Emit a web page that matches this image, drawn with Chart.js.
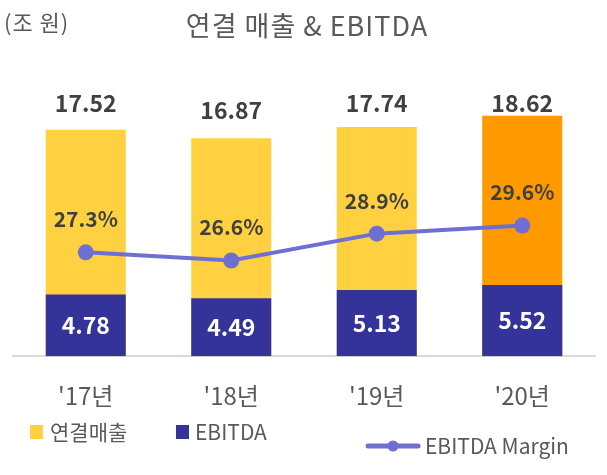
<!DOCTYPE html>
<html>
<head>
<meta charset="utf-8">
<script src="https://cdn.jsdelivr.net/npm/chart.js@4"></script>
<style>
  html, body { margin: 0; padding: 0; background: #fff; }
  #wrap { width: 607px; height: 475px; }
</style>
</head>
<body>
<div id="wrap"><canvas id="salesChart" width="607" height="475"></canvas></div>
<script>
var years = ["'17년", "'18년", "'19년", "'20년"];
var sales = [17.52, 16.87, 17.74, 18.62];
var ebitda = [4.78, 4.49, 5.13, 5.52];
var margin = [27.3, 26.6, 28.9, 29.6];

var fontName = "'Noto Sans CJK KR', 'Noto Sans', sans-serif";
var sales_colors = ["#FFD040", "#FFD040", "#FFD040", "#FF9900"];

var labelPlugin = {
    id: 'labelPlugin',
    afterDatasetsDraw: function (chart) {
        var ctx = chart.ctx;
        var top = chart.chartArea.top;
        ctx.save();
        ctx.textAlign = 'center';
        ctx.textBaseline = 'middle';

        // totals above the bars
        ctx.fillStyle = '#404040';
        ctx.font = 'bold 23px ' + fontName;
        chart.getDatasetMeta(0).data.forEach(function (bar, i) {
            ctx.fillText(sales[i].toFixed(2), bar.x, Math.max(bar.y - 28, top + 31));
        });

        // ebitda inside the navy bars
        ctx.fillStyle = '#ffffff';
        chart.getDatasetMeta(1).data.forEach(function (bar, i) {
            ctx.fillText(ebitda[i].toFixed(2), bar.x, (bar.y + bar.base) / 2);
        });

        // margin labels
        ctx.fillStyle = '#404040';
        ctx.font = 'bold 21px ' + fontName;
        chart.getDatasetMeta(2).data.forEach(function (pt, i) {
            ctx.fillText(margin[i].toFixed(1) + '%', pt.x, pt.y - 33);
        });
        ctx.restore();
    },
    afterDraw: function (chart) {
        var ctx = chart.ctx;
        ctx.save();
        ctx.textBaseline = 'middle';
        ctx.fillStyle = '#595959';

        ctx.font = '22px ' + fontName;
        ctx.letterSpacing = '1px';
        ctx.textAlign = 'left';
        ctx.fillText('(조 원)', 4, 23);

        ctx.font = '27px ' + fontName;
        ctx.textAlign = 'center';
        ctx.fillText('연결 매출 & EBITDA', 307, 26);
        ctx.letterSpacing = '0px';

        // legend
        ctx.textAlign = 'left';
        ctx.font = '21px ' + fontName;
        ctx.fillStyle = '#FFD040';
        ctx.fillRect(30, 425, 13, 14);
        ctx.fillStyle = '#595959';
        ctx.fillText('연결매출', 50, 432);

        ctx.fillStyle = '#333399';
        ctx.fillRect(176, 425, 13, 14);
        ctx.fillStyle = '#595959';
        ctx.fillText('EBITDA', 195, 432);

        ctx.strokeStyle = '#6F6FD3';
        ctx.lineWidth = 5;
        ctx.lineCap = 'round';
        ctx.beginPath();
        ctx.moveTo(368, 446);
        ctx.lineTo(418, 446);
        ctx.stroke();
        ctx.fillStyle = '#6F6FD3';
        ctx.beginPath();
        ctx.arc(393, 446, 5.5, 0, Math.PI * 2);
        ctx.fill();
        ctx.fillStyle = '#595959';
        ctx.fillText('EBITDA Margin', 425, 446);
        ctx.restore();
    }
};

var ctx = document.getElementById("salesChart");

var salesChart = new Chart(ctx, {
    type: 'bar',
    data: {
        labels: years,
        datasets: [{
            label: '연결매출',
            data: sales,
            backgroundColor: sales_colors,
            grouped: false,
            order: 3,
            yAxisID: 'y'
        }, {
            label: 'EBITDA',
            data: ebitda,
            backgroundColor: '#333399',
            grouped: false,
            order: 2,
            yAxisID: 'y'
        }, {
            type: 'line',
            label: 'EBITDA Margin',
            data: margin,
            borderColor: '#6F6FD3',
            backgroundColor: '#6F6FD3',
            borderWidth: 4,
            pointRadius: 6,
            pointHoverRadius: 6,
            order: 1,
            yAxisID: 'y2'
        }]
    },
    options: {
        responsive: false,
        animation: false,
        devicePixelRatio: 1,
        layout: {
            padding: { top: 72, left: 13, right: 12, bottom: 40 }
        },
        datasets: {
            bar: { barPercentage: 0.55, categoryPercentage: 1.0 }
        },
        plugins: {
            legend: { display: false },
            tooltip: { enabled: false }
        },
        scales: {
            x: {
                grid: { display: false, drawTicks: false },
                border: { display: true, color: '#D9D9D9', width: 2 },
                ticks: {
                    color: '#595959',
                    padding: 25,
                    font: { family: fontName, size: 24 }
                }
            },
            y: {
                display: false,
                min: 0,
                max: 22
            },
            y2: {
                display: false,
                position: 'right',
                min: 18.4,
                max: 42.75
            }
        }
    },
    plugins: [labelPlugin]
});
</script>
</body>
</html>
